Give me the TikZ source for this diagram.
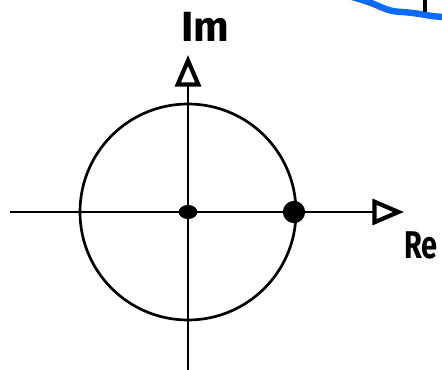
\documentclass[tikz,border=0pt]{standalone}
\usepackage{fontspec}
\setsansfont{Fira Sans}
\usepackage{xcolor}
\usetikzlibrary{arrows.meta,positioning,shapes.geometric}
\definecolor{penblue}{HTML}{0A6CFF}

\begin{document}
\begin{tikzpicture}[
  x=0.03cm,y=-0.03cm,
  axis/.style={line width=2.3pt,-{Triangle[open,length=27pt,width=22pt,line width=3.6pt]}},
  ring/.style={draw,line width=2.3pt},
  dotmark/.style={fill=black,inner sep=0pt,draw=none},
  axlabel/.style={font=\sffamily\bfseries\fontsize{36}{36}\selectfont,inner sep=0pt},
]
\useasboundingbox (0,0) rectangle (442,370);

% axes
\coordinate (o) at (188,212);
\coordinate (xl) at (10,212);
\coordinate (xr) at (404,212);
\coordinate (yb) at (188,372);
\coordinate (yt) at (188,55);
\draw[axis] (xl) -- (xr);
\draw[axis] (yb) -- (yt);

% unit circle
\draw[ring] (o) circle[radius=108];

% points
\node[dotmark,ellipse,minimum width=16pt,minimum height=12pt] (zero) at (o) {};
\node[dotmark,circle,minimum size=19pt] (one) at (294,212) {};

% labels
\node[axlabel] (im) at (205,27) {Im};
\node[axlabel,anchor=west,font=\sffamily\bfseries\fontsize{33}{33}\selectfont] (re) at (404,245) {\scalebox{0.75}[1]{Re}};

% fragment of the next sketch
\coordinate (bs) at (352,-3);
\coordinate (be) at (446,17);
\draw[penblue,line width=5.5pt,line cap=round] (bs) .. controls (385,6) and (382,11) .. (402,12) .. controls (420,13) and (430,17) .. (be);
\coordinate (kt) at (425,-2);
\coordinate (kb) at (425,12);
\draw[line width=2.6pt] (kt) -- (kb);
\end{tikzpicture}
\end{document}
